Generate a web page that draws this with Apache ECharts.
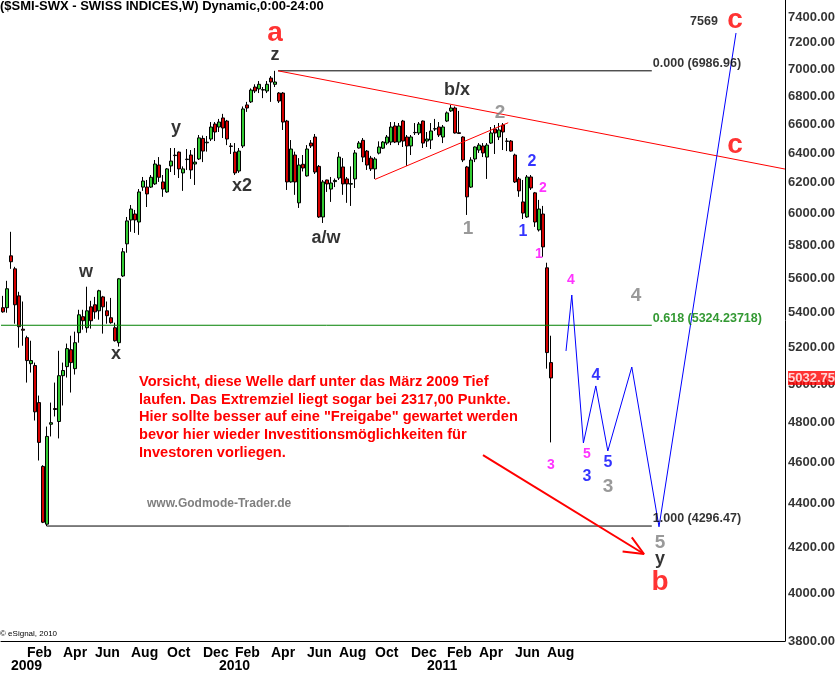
<!DOCTYPE html>
<html><head><meta charset="utf-8">
<script src="https://cdn.jsdelivr.net/npm/echarts@6/dist/echarts.min.js"></script>
<style>html,body{margin:0;padding:0;background:#fff}#c{width:837px;height:674px}</style>
</head><body><div id="c"></div>
<script>
// ---------- DATA ----------
const startMonday = '2008-12-22';   // first weekly bar
const weekSlots = 196;              // weeks shown on the time axis
const monthNames = ['Jan','Feb','Mar','Apr','May','Jun','Jul','Aug','Sep','Oct','Nov','Dec'];
// weekly candles [open, close, low, high]
const candles = [
[5425,5401,5396,5494],[5425,5536,5396,5583],[5734,5698,5655,5883],[5655,5442,5333,5667],
[5494,5316,5198,5518],[5302,5296,5209,5461],[5254,5127,5008,5265],[5110,5127,5062,5237],
[5100,4854,4809,5116],[4902,4698,4608,4939],[4579,4314,4310,4585],[4305,4728,4296.47,4778],
[4790,4798,4728,4902],[4871,4866,4830,5008],[4804,5045,4718,5181],[5045,5073,4887,5116],
[5094,5193,5035,5221],[5187,5116,4955,5265],[5083,5226,5051,5288],[5282,5384,5226,5413],
[5373,5350,5299,5413],[5310,5407,5282,5548],[5430,5350,5305,5465],[5442,5401,5361,5488],
[5407,5524,5356,5530],[5488,5430,5277,5494],[5407,5379,5333,5461],[5367,5339,5333,5482],
[5310,5237,5232,5339],[5226,5595,5204,5600],[5612,5759,5606,5782],[5808,5952,5753,5977],
[5958,6028,5883,6054],[5996,5958,5876,6022],[5945,6139,5864,6158],[6171,6211,6146,6238],
[6171,6126,6041,6218],[6171,6236,6165,6251],[6192,6325,6185,6352],[6318,6236,6205,6372],
[6205,6158,6107,6251],[6139,6292,6133,6298],[6312,6345,6271,6434],[6382,6385,6251,6434],
[6406,6292,6231,6410],[6265,6292,6146,6309],[6355,6358,6285,6427],[6386,6285,6225,6420],
[6325,6338,6185,6434],[6359,6504,6352,6524],[6500,6413,6338,6520],[6470,6474,6409,6517],
[6496,6580,6482,6615],[6601,6545,6482,6615],[6580,6615,6545,6637],[6644,6573,6503,6673],
[6622,6496,6454,6630],[6448,6445,6393,6468],[6406,6265,6251,6468],[6278,6413,6265,6434],
[6448,6708,6434,6726],[6737,6715,6687,6759],[6759,6845,6751,6857],[6867,6838,6823,6887],
[6853,6887,6823,6911],[6845,6848,6786,6867],[6838,6887,6823,6911],[6933,6904,6759,6948],
[6887,6904,6867,6986.96],[6823,6765,6751,6830],[6823,6615,6559,6830],[6622,6205,6152,6630],
[6205,6427,6200,6489],[6386,6205,6120,6409],[6068,6318,6035,6365],[6323,6298,6275,6386],
[6245,6427,6240,6454],[6468,6448,6434,6489],[6510,6271,6258,6531],[6309,5977,5971,6318],
[5977,6205,5939,6218],[6218,6192,6139,6220],[6158,6198,6074,6238],[6207,6215,6171,6228],
[6231,6372,6218,6406],[6305,6192,6120,6365],[6225,6192,6068,6238],[6190,6194,6048,6309],
[6225,6400,6165,6420],[6434,6468,6430,6482],[6487,6372,6338,6503],[6413,6318,6285,6420],
[6365,6292,6278,6380],[6292,6359,6225,6372],[6399,6441,6390,6480],[6433,6475,6427,6482],
[6468,6510,6454,6524],[6475,6580,6454,6615],[6587,6475,6468,6615],[6475,6587,6454,6608],
[6622,6482,6441,6630],[6510,6448,6312,6524],[6448,6510,6386,6524],[6540,6542,6524,6608],
[6538,6601,6524,6615],[6622,6468,6434,6626],[6482,6496,6441,6545],[6489,6552,6427,6608],
[6566,6568,6552,6637],[6580,6524,6510,6615],[6510,6580,6468,6594],[6622,6680,6615,6690],
[6694,6715,6687,6737],[6715,6538,6534,6726],[6540,6535,6531,6694],[6510,6352,6338,6515],
[6305,6107,5990,6312],[6171,6352,6165,6371],[6359,6441,6338,6445],[6420,6454,6400,6468],
[6448,6400,6372,6468],[6372,6454,6225,6468],[6468,6538,6462,6580],[6566,6538,6393,6594],
[6510,6559,6489,6608],[6594,6545,6420,6608],[6482,6480,6413,6503],[6482,6413,6409,6489],
[6386,6205,6198,6395],[6225,6146,6107,6238],[6074,6002,5964,6218],[5977,6238,5971,6251],
[6238,6165,6152,6251],[6133,5945,5914,6139],[5895,6028,5885,6087],[5996,5789,5728,6048],
[5661,5171,5083,5692],[5116,5032.75,4698,5265]
];
const priceTicks = [3800,4000,4200,4400,4600,4800,5000,5200,5400,5600,5800,6000,6200,6400,6600,6800,7000,7200,7400];
const lastPrice = 5032.75;
// Fibonacci levels: [ratio label, price, fromWeek, toWeek]
const fibLevels = [['0.000 (6986.96)',6986.96,68.75,162.2],['0.618 (5324.23718)',5324.23718,-0.5,162.2],['1.000 (4296.47)',4296.47,10.9,162.2]];
const fibColors = ['#000000','#008000','#000000'];
// projected path [week, price]
const projection = [[140.75,5180],[142.2,5499],[145.1,4695],[148.2,4990],[151.2,4655],[157.2,5092],[164,4293],[183.25,7275]];
const resistanceLine = [[68.75,6987],[195.5,6291]];
const supportLine = [[93,6222],[126.3,6610]];
const arrowLine = [[120,4635],[160.25,4170]];
const arrowHead = [[157.2,4245],[160.25,4170],[154.9,4181]];
// wave labels [week, price, text]
const labelsBlack = [[68,7106,'z'],[20.75,5636,'w'],[28.25,5163,'x'],[43.25,6573,'y'],[59.75,6178,'x2'],[80.75,5844,'a/w'],[113.5,6845,'b/x'],[164.25,4148,'y']];
const labelsRed = [[68,7275,'a'],[164.25,4047,'b'],[183,7376,'c'],[183,6454,'c']];
const labelsGrey = [[124.25,6679,'2'],[116.25,5901,'1'],[158.25,5494,'4'],[151.25,4480,'3'],[164.25,4219,'5']];
const labelsBlue = [[132.25,6338,'2'],[130,5883,'1'],[148.25,5043,'4'],[146,4528,'3'],[151.25,4596,'5']];
const labelsMagenta = [[135,6165,'2'],[134,5745,'1'],[137,4586,'3'],[142,5589,'4'],[146,4641,'5']];
const targetLabel = [[175.25,7368,'7569']];
const noteLines = ['Vorsicht, diese Welle darf unter das März 2009 Tief','laufen. Das Extremziel liegt sogar bei 2317,00 Punkte.','Hier sollte besser auf eine "Freigabe" gewartet werden','bevor hier wieder Investitionsmöglichkeiten für','Investoren vorliegen.'];
const titleText = '($SMI-SWX - SWISS INDICES,W) Dynamic,0:00-24:00';

// ---------- BUILD ----------
const FONT = "'Liberation Sans', Arial, sans-serif";
const NARROW = "'Liberation Sans Narrow', 'Arial Narrow', 'Liberation Sans', Arial, sans-serif";
const weeks = [];
const t0 = Date.UTC(+startMonday.slice(0,4), +startMonday.slice(5,7)-1, +startMonday.slice(8,10));
for (let i = 0; i < weekSlots; i++) {
  const d = new Date(t0 + i*7*86400000);
  weeks.push(d.getUTCFullYear()+'-'+String(d.getUTCMonth()+1).padStart(2,'0')+'-'+String(d.getUTCDate()).padStart(2,'0'));
}
function monthText(v, idx) {
  if (idx >= candles.length) return '';
  const M = +v.slice(5,7), D = +v.slice(8,10);
  return (D <= 7 && M % 2 === 0) ? monthNames[M-1] : '';
}
function yearText(v, idx) {
  if (idx >= candles.length) return '';
  const M = +v.slice(5,7), D = +v.slice(8,10);
  return (D <= 7 && M === 1) ? v.slice(0,4) : '';
}
function lineSeries(data, color, width) {
  return {type:'line', xAxisIndex:1, yAxisIndex:0, data, symbol:'none', silent:true,
    lineStyle:{color, width}, z:5, clip:false};
}
function labelSeries(arr, color, size) {
  return {type:'scatter', xAxisIndex:1, yAxisIndex:0, symbolSize:0, silent:true, clip:false, z:8,
    data: arr.map(a => ({value:[a[0], a[1]], name:a[2]})),
    label:{show:true, position:'inside', formatter:p=>p.name, color, fontSize:size, fontWeight:'bold', fontFamily:FONT}};
}
const series = [
  {type:'candlestick', xAxisIndex:0, yAxisIndex:0, data:candles, barWidth:3, silent:true, z:3,
   itemStyle:{color:'#33cc33', color0:'#d40000', borderColor:'#000', borderColor0:'#000', borderColorDoji:'#000', borderWidth:1}},
];
fibLevels.forEach((f,i) => series.push(lineSeries([[f[2],f[1]],[f[3],f[1]]], fibColors[i], 1)));
series.push(lineSeries(resistanceLine, '#ff0000', 1));
series.push(lineSeries(supportLine, '#ff0000', 1));
series.push(lineSeries(projection, '#0000ff', 1));
series.push(lineSeries(arrowLine, '#ff0000', 2));
series.push(lineSeries(arrowHead, '#ff0000', 2));
fibLevels.forEach((f,i) => series.push({type:'scatter', xAxisIndex:1, yAxisIndex:0, symbolSize:0, silent:true, clip:false, z:8,
  data:[{value:[f[3], f[1]], name:f[0]}],
  label:{show:true, position:'right', distance:1, offset:[0,-7], formatter:p=>p.name, color:fibColors[i], fontSize:12.5, fontWeight:'bold', fontFamily:FONT}}));
series.push(labelSeries(labelsBlack, '#000', 18));
series.push(labelSeries(labelsRed, '#ff0000', 28));
series.push(labelSeries(labelsGrey, '#808080', 19));
series.push(labelSeries(labelsBlue, '#0000ff', 16));
series.push(labelSeries(labelsMagenta, '#ff00ff', 14));
series.push(labelSeries(targetLabel, '#000', 12.5));
series.push({type:'scatter', xAxisIndex:1, yAxisIndex:0, symbolSize:0, silent:true, clip:false, z:9,
  data: priceTicks.map(v => [195.5, v]),
  label:{show:true, position:'right', distance:3, formatter:p=>p.value[1].toFixed(2), color:'#000', fontSize:13, fontWeight:'bold', fontFamily:FONT}});
series.push({type:'scatter', xAxisIndex:1, yAxisIndex:0, symbolSize:0, silent:true, clip:false, z:10,
  data: [[195.5, lastPrice]],
  label:{show:true, position:'right', distance:3, formatter:p=>p.value[1].toFixed(2), color:'#fff', backgroundColor:'#ff0000', padding:[1,0,0,0], fontSize:13, fontWeight:'bold', fontFamily:FONT}});

const labelBase = {align:'left', showMinLabel:true, showMaxLabel:true, hideOverlap:false,
  color:'#000', fontSize:14, fontWeight:'bold', fontFamily:NARROW};
const chart = echarts.init(document.getElementById('c'), null, {renderer:'canvas'});
chart.setOption({
  animation:false,
  backgroundColor:'#ffffff',
  grid:{left:1, top:0, width:784, height:641},
  xAxis:[
    {type:'category', data:weeks, boundaryGap:true, position:'bottom',
     axisLine:{show:true, onZero:false, lineStyle:{color:'#000', width:1}}, axisTick:{show:false}, splitLine:{show:false},
     axisLabel:Object.assign({interval:(i,v)=>monthText(v,i)!=='', formatter:(v,i)=>monthText(v,i), margin:5}, labelBase)},
    {type:'value', min:-0.5, max:195.5, show:false, axisLine:{onZero:false}},
    {type:'category', data:weeks, boundaryGap:true, position:'bottom', offset:0,
     axisLine:{show:false, onZero:false}, axisTick:{show:false}, splitLine:{show:false},
     axisLabel:Object.assign({interval:(i,v)=>yearText(v,i)!=='', formatter:(v,i)=>yearText(v,i), margin:18}, labelBase)}
  ],
  yAxis:[{type:'log', logBase:10, min:3800, max:7536, position:'right', scale:true,
    axisLine:{show:true, onZero:false, lineStyle:{color:'#000', width:1}}, axisTick:{show:false}, axisLabel:{show:false}, splitLine:{show:false}}],
  graphic:[
    {type:'text', left:0, top:0, style:{text:titleText, fill:'#000', font:'bold 13px '+FONT}},
    {type:'text', left:139, top:373, style:{text:noteLines.join('\n'), fill:'#ff0000', font:'bold 14.6px '+FONT, lineHeight:17.7}},
    {type:'text', left:147, top:498, style:{text:'www.Godmode-Trader.de', fill:'#7f7f7f', font:'bold 12px '+FONT}},
    {type:'text', left:0, top:630, style:{text:'© eSignal, 2010', fill:'#000', font:'8px '+FONT}}
  ],
  series
});
</script></body></html>
